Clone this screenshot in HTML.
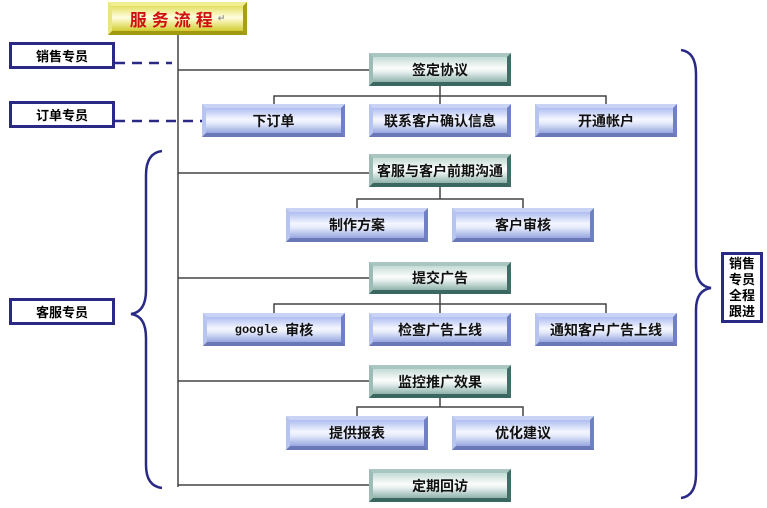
<!DOCTYPE html>
<html><head><meta charset="utf-8"><style>
body{margin:0;width:767px;height:508px;background:#fff;position:relative;overflow:hidden;font-family:"Liberation Sans","Noto Sans CJK SC",sans-serif}
.b{position:absolute;box-sizing:border-box;border:4px solid;text-align:center;font-weight:bold;font-size:14px;color:#111;display:flex;align-items:center;justify-content:center}
.bl{border-color:#c9d3f5 #7080c8 #6a78b8 #b8c4f0;background:linear-gradient(#aebdf0,#f4f6ff 45%,#e6ebfb 60%,#96a6e0)}
.gr{border-color:#a9c6c0 #3f6e66 #3a6860 #9cbcb5;background:linear-gradient(#c4dcd6,#fbfdfc 45%,#e6f0ee 60%,#8fb2aa)}
.lab{position:absolute;box-sizing:border-box;border:3px solid #2a2a86;background:#fff;font-weight:bold;font-size:13px;display:flex;align-items:center;justify-content:center}
</style></head><body>
<svg width="767" height="508" style="position:absolute;left:0;top:0">
<g stroke="#444" stroke-width="1.5" fill="none">
<line x1="178" y1="35" x2="178" y2="487"/>
<line x1="178" y1="70" x2="370" y2="70"/>
<line x1="178" y1="173" x2="370" y2="173"/>
<line x1="178" y1="278" x2="370" y2="278"/>
<line x1="178" y1="381" x2="370" y2="381"/>
<line x1="178" y1="485" x2="370" y2="485"/>
<path d="M440 86V96M274 104V96H606V104M440 96V104"/>
<path d="M440 187V199M357 208V199H523V208"/>
<path d="M440 294V304M274 313V304H606V313M440 304V313"/>
<path d="M440 398V407M357 416V407H523V416"/>
</g>
<g stroke="#2a2a86" stroke-width="2.5" fill="none" stroke-dasharray="10,7">
<line x1="115" y1="63" x2="172" y2="63"/>
<line x1="115" y1="121" x2="207" y2="121"/>
</g>
<g stroke="#2a2a86" stroke-width="2.5" fill="none">
<path d="M162 151 Q146 153 146 175 L146 290 Q146 312 131 314 Q146 316 146 338 L146 465 Q146 486 162 488"/>
<path d="M681 50 Q696 52 696 74 L696 266 Q696 286 711 288 Q696 290 696 310 L696 474 Q696 496 681 498"/>
</g>
</svg>
<div class="b" style="left:108px;top:2px;width:139px;height:33px;border-color:#f0ee90 #a8a010 #a09a10 #e8e680;background:linear-gradient(#e4e060,#fffde0 45%,#f4f2b0 60%,#d0cc30);color:#d01010;font-size:17px;letter-spacing:5px">服务流程<span style="color:#999;font-size:9px;letter-spacing:0">↵</span></div>
<div class="lab" style="left:9px;top:42px;width:106px;height:27px">销售专员</div>
<div class="lab" style="left:9px;top:101px;width:106px;height:27px">订单专员</div>
<div class="lab" style="left:9px;top:298px;width:106px;height:27px">客服专员</div>
<div class="lab" style="left:721px;top:252px;width:42px;height:71px;font-size:13px;line-height:16px;text-align:center">销售<br>专员<br>全程<br>跟进</div>
<div class="b gr" style="left:369px;top:53px;width:142px;height:33px">签定协议</div>
<div class="b gr" style="left:369px;top:154px;width:142px;height:33px">客服与客户前期沟通</div>
<div class="b gr" style="left:369px;top:262px;width:142px;height:32px">提交广告</div>
<div class="b gr" style="left:369px;top:365px;width:142px;height:33px">监控推广效果</div>
<div class="b gr" style="left:369px;top:469px;width:142px;height:33px">定期回访</div>
<div class="b bl" style="left:202px;top:104px;width:143px;height:33px">下订单</div>
<div class="b bl" style="left:369px;top:104px;width:142px;height:33px">联系客户确认信息</div>
<div class="b bl" style="left:535px;top:104px;width:142px;height:33px">开通帐户</div>
<div class="b bl" style="left:286px;top:208px;width:142px;height:34px">制作方案</div>
<div class="b bl" style="left:452px;top:208px;width:142px;height:34px">客户审核</div>
<div class="b bl" style="left:203px;top:313px;width:142px;height:33px"><span style="font-family:'Liberation Mono',monospace;font-size:12px">google&nbsp;</span>审核</div>
<div class="b bl" style="left:369px;top:313px;width:142px;height:33px">检查广告上线</div>
<div class="b bl" style="left:535px;top:313px;width:142px;height:33px">通知客户广告上线</div>
<div class="b bl" style="left:286px;top:416px;width:142px;height:34px">提供报表</div>
<div class="b bl" style="left:452px;top:416px;width:142px;height:34px">优化建议</div>
</body></html>
